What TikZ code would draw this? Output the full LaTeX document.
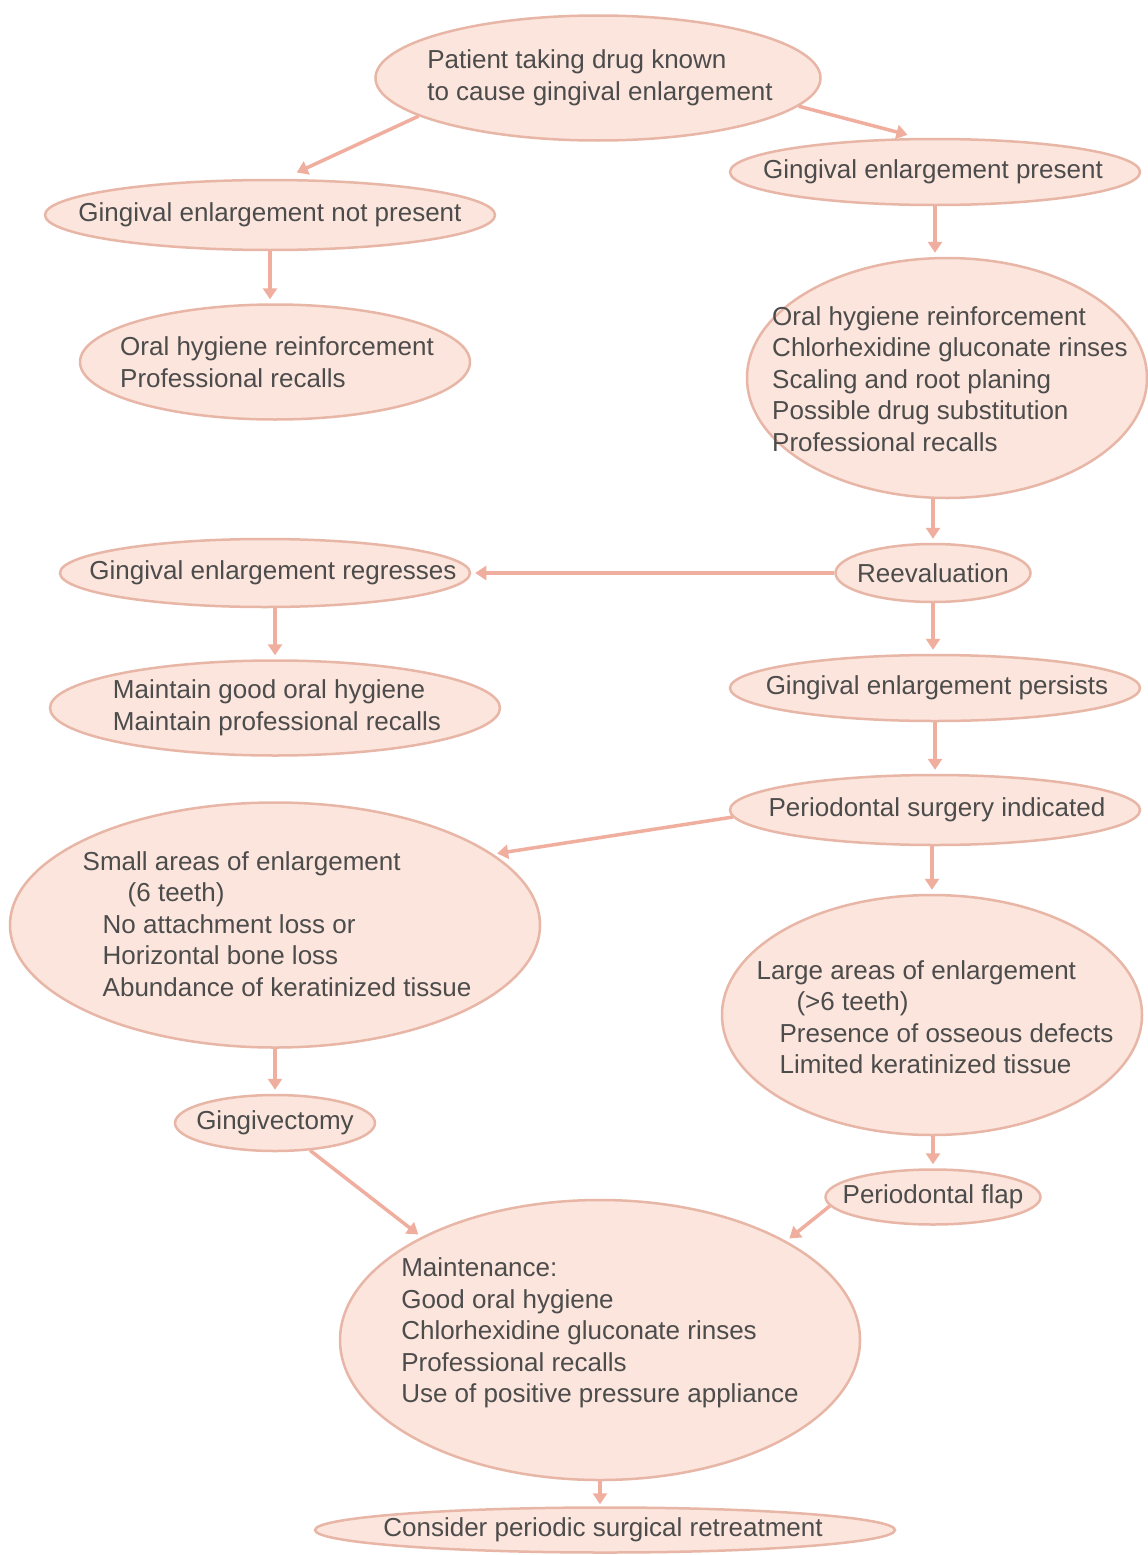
\documentclass[tikz,border=0pt]{standalone}
\usepackage{fontspec}
\setmainfont{Liberation Sans}
\usetikzlibrary{shapes.geometric,arrows.meta}
\definecolor{fillc}{HTML}{FCE5DC}
\definecolor{bordc}{HTML}{E8B6A6}
\definecolor{arrc}{HTML}{F0AE9E}
\definecolor{txtc}{HTML}{4C4C4C}
\begin{document}
\begin{tikzpicture}[x=1pt,y=-1pt,
  bub/.style={ellipse, draw=bordc, fill=fillc, line width=2.5pt, inner sep=0pt},
  txt/.style={text=txtc, align=left, font=\fontsize{26}{31.5}\selectfont, inner sep=0pt},
  arr/.style={draw=arrc, line width=3.5pt, -{Triangle[length=11pt,width=14pt]}, shorten >=4pt}]
\path[use as bounding box, fill=white] (0,0) rectangle (1148,1555);

% ellipses
\node[bub, minimum width=445pt, minimum height=125pt] (top) at (598,78) {};
\node[bub, minimum width=450pt, minimum height=70pt] (np) at (270,215) {};
\node[bub, minimum width=410pt, minimum height=66pt] (pr) at (935,172) {};
\node[bub, minimum width=390pt, minimum height=115pt] (ohr) at (275,362) {};
\node[bub, minimum width=400pt, minimum height=240pt] (big) at (947,378) {};
\node[bub, minimum width=410pt, minimum height=68pt] (regr) at (265,573) {};
\node[bub, minimum width=195pt, minimum height=58pt] (reev) at (933,573) {};
\node[bub, minimum width=450pt, minimum height=95pt] (mgood) at (275,708) {};
\node[bub, minimum width=410pt, minimum height=66pt] (pers) at (935,688) {};
\node[bub, minimum width=410pt, minimum height=70pt] (surg) at (935,810) {};
\node[bub, minimum width=530pt, minimum height=245pt] (small) at (275,925) {};
\node[bub, minimum width=420pt, minimum height=240pt] (large) at (932,1015) {};
\node[bub, minimum width=200pt, minimum height=56pt] (gvec) at (275,1123) {};
\node[bub, minimum width=215pt, minimum height=55pt] (flap) at (933,1197) {};
\node[bub, minimum width=520pt, minimum height=280pt] (mnt) at (600,1340) {};
\node[bub, minimum width=580pt, minimum height=45pt] (cons) at (605,1530) {};

% texts
\node[txt] (ttop) at (600,78) {Patient taking drug known\\to cause gingival enlargement};
\node[txt] (tnp) at (270,215) {Gingival enlargement not present};
\node[txt] (tpr) at (933,172) {Gingival enlargement present};
\node[txt] (tohr) at (277,362) {Oral hygiene reinforcement\\Professional recalls};
\node[txt] (tbig) at (950,379) {Oral hygiene reinforcement\\Chlorhexidine gluconate rinses\\Scaling and root planing\\Possible drug substitution\\Professional recalls};
\node[txt] (tregr) at (273,573) {Gingival enlargement regresses};
\node[txt] (treev) at (933,573) {Reevaluation};
\node[txt] (tmgood) at (277,708) {Maintain good oral hygiene\\Maintain professional recalls};
\node[txt] (tpers) at (937,688) {Gingival enlargement persists};
\node[txt] (tsurg) at (937,810) {Periodontal surgery indicated};
\node[txt] (tsmall) at (277,924) {Small areas of enlargement\\\hspace*{45pt}(6 teeth)\\\hspace*{20pt}No attachment loss or\\\hspace*{20pt}Horizontal bone loss\\\hspace*{20pt}Abundance of keratinized tissue};
\node[txt] (tlarge) at (935,1017) {Large areas of enlargement\\\hspace*{40pt}(>6 teeth)\\\hspace*{23pt}Presence of osseous defects\\\hspace*{23pt}Limited keratinized tissue};
\node[txt] (tgvec) at (275,1123) {Gingivectomy};
\node[txt] (tflap) at (933,1197) {Periodontal flap};
\node[txt] (tmnt) at (600,1333) {Maintenance:\\Good oral hygiene\\Chlorhexidine gluconate rinses\\Professional recalls\\Use of positive pressure appliance};
\node[txt] (tcons) at (603,1530) {Consider periodic surgical retreatment};

% connectors
\draw[arr, shorten >=15pt] (top.192) -- (np.70);
\draw[arr, shorten >=12pt] (top.352) -- (pr.115);
\draw[arr] (np.south) -- (np.south |- ohr.north);
\draw[arr] (pr.south) -- (pr.south |- big.north);
\draw[arr] (big.south -| reev.north) -- (reev.north);
\draw[arr] (reev.west) -- (regr.east);
\draw[arr] (regr.south -| mgood.north) -- (mgood.north);
\draw[arr] (reev.south) -- (reev.south |- pers.north);
\draw[arr] (pers.south) -- (pers.south |- surg.north);
\draw[arr] (surg.182) -- (small.18);
\draw[arr] (surg.south -| large.north) -- (large.north);
\draw[arr] (small.south) -- (small.south |- gvec.north);
\draw[arr] (large.south -| flap.north) -- (flap.north);
\draw[arr] (gvec.322) -- (mnt.150);
\draw[arr] (flap.185) -- (mnt.28);
\draw[arr, shorten >=2pt] (mnt.south) -- (mnt.south |- cons.north);
\end{tikzpicture}
\end{document}
